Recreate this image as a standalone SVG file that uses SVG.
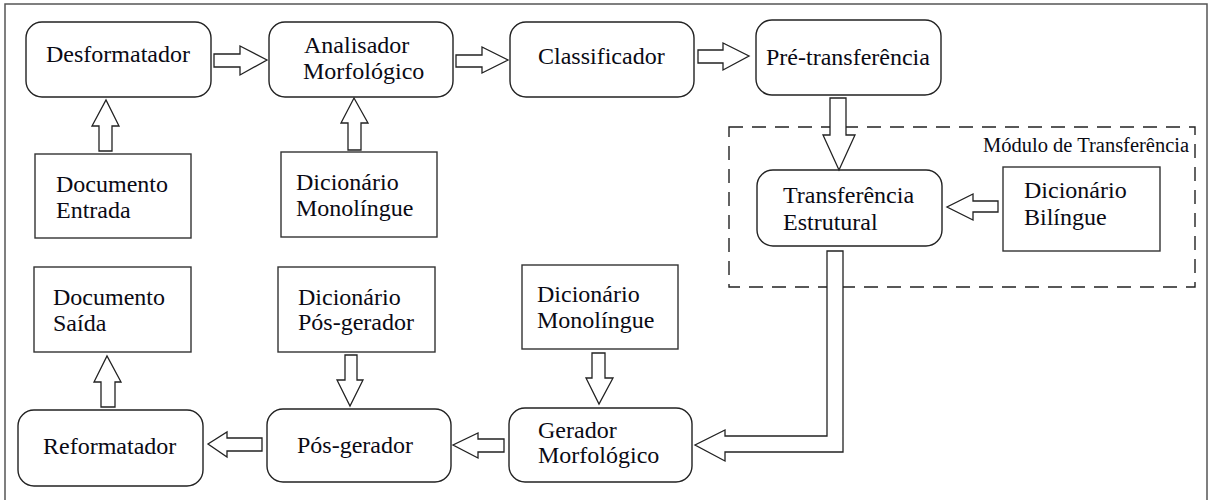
<svg xmlns="http://www.w3.org/2000/svg" width="1209" height="500" viewBox="0 0 1209 500">
  <style>
    .frame { fill: none; stroke: #555; stroke-width: 1.5; }
    .proc { fill: #fff; stroke: #222; stroke-width: 1.4; }
    .data { fill: #fff; stroke: #333; stroke-width: 1.4; }
    .module { fill: none; stroke: #222; stroke-width: 1.4; stroke-dasharray: 14 9; }
    .arrow { fill: #fff; stroke: #222; stroke-width: 1.3; stroke-linejoin: miter; }
    .lbl { font-family: 'Liberation Serif', serif; font-size: 24px; fill: #0a0a14; }
    .small { font-family: 'Liberation Serif', serif; font-size: 20.5px; fill: #0a0a14; }
  </style>

  <!-- outer frame -->
  <path class="frame" d="M5,500 V4 H1207 V500"/>

  <!-- transfer module boundary -->
  <g id="modulo-transferencia">
    <rect class="module" x="729" y="127" width="466" height="160"/>
    <text class="small" x="983" y="152">Módulo de Transferência</text>
  </g>

  <!-- processing steps -->
  <g id="desformatador">
    <rect class="proc" x="26" y="22" width="185" height="75" rx="16"/>
    <text class="lbl" x="46" y="62">Desformatador</text>
  </g>
  <g id="analisador">
    <rect class="proc" x="269" y="22" width="184" height="75" rx="16"/>
    <text class="lbl" x="304" y="53">Analisador</text>
    <text class="lbl" x="303" y="79">Morfológico</text>
  </g>
  <g id="classificador">
    <rect class="proc" x="510" y="22" width="184" height="75" rx="16"/>
    <text class="lbl" x="538" y="64">Classificador</text>
  </g>
  <g id="pre-transferencia">
    <rect class="proc" x="756" y="20" width="185" height="75" rx="16"/>
    <text class="lbl" x="766" y="65">Pré-transferência</text>
  </g>
  <g id="transferencia-estrutural">
    <rect class="proc" x="757" y="170" width="185" height="76" rx="16"/>
    <text class="lbl" x="783" y="203">Transferência</text>
    <text class="lbl" x="783" y="230">Estrutural</text>
  </g>
  <g id="gerador">
    <rect class="proc" x="509" y="408" width="183" height="74" rx="16"/>
    <text class="lbl" x="538" y="438">Gerador</text>
    <text class="lbl" x="538" y="463">Morfológico</text>
  </g>
  <g id="pos-gerador">
    <rect class="proc" x="267" y="409" width="184" height="73" rx="16"/>
    <text class="lbl" x="297" y="453">Pós-gerador</text>
  </g>
  <g id="reformatador">
    <rect class="proc" x="18" y="410" width="185" height="76" rx="16"/>
    <text class="lbl" x="43" y="454">Reformatador</text>
  </g>

  <!-- documents and dictionaries -->
  <g id="documento-entrada">
    <rect class="data" x="35" y="154" width="156" height="84"/>
    <text class="lbl" x="56" y="192">Documento</text>
    <text class="lbl" x="56" y="218">Entrada</text>
  </g>
  <g id="dicionario-monolingue-1">
    <rect class="data" x="281" y="152" width="156" height="85"/>
    <text class="lbl" x="296" y="190">Dicionário</text>
    <text class="lbl" x="296" y="216">Monolíngue</text>
  </g>
  <g id="dicionario-bilingue">
    <rect class="data" x="1003" y="167" width="157" height="84"/>
    <text class="lbl" x="1024" y="198">Dicionário</text>
    <text class="lbl" x="1024" y="225">Bilíngue</text>
  </g>
  <g id="documento-saida">
    <rect class="data" x="34" y="267" width="157" height="85"/>
    <text class="lbl" x="53" y="305">Documento</text>
    <text class="lbl" x="53" y="331">Saída</text>
  </g>
  <g id="dicionario-pos-gerador">
    <rect class="data" x="278" y="267" width="157" height="85"/>
    <text class="lbl" x="298" y="305">Dicionário</text>
    <text class="lbl" x="298" y="330">Pós-gerador</text>
  </g>
  <g id="dicionario-monolingue-2">
    <rect class="data" x="522" y="265" width="156" height="84"/>
    <text class="lbl" x="537" y="302">Dicionário</text>
    <text class="lbl" x="537" y="328">Monolíngue</text>
  </g>

  <!-- block arrows -->
  <g id="connectors">
    <polygon class="arrow" points="214,54 240,54 240,46 267,60 240,75 240,67 214,67"/>
    <polygon class="arrow" points="456,55 482,55 482,47 508,60 482,73 482,67 456,67"/>
    <polygon class="arrow" points="698,50 723,50 723,43 749,56 723,70 723,63 698,63"/>
    <polygon class="arrow" points="99,151 99,126 92,126 106,100 119,126 112,126 112,151"/>
    <polygon class="arrow" points="348,150 348,123 341,123 354,98 368,123 361,123 361,150"/>
    <polygon class="arrow" points="830,98 846,98 846,135 855,135 839,170 823,135 830,135"/>
    <polygon class="arrow" points="998,201 973,201 973,194 947,207 973,220 973,212 998,212"/>
    <polygon class="arrow" points="827,251 843,251 843,452 725,452 725,461 695,445 725,430 725,436 827,436"/>
    <polygon class="arrow" points="592,353 605,353 605,378 613,378 599,404 586,378 592,378"/>
    <polygon class="arrow" points="504,439 478,439 478,433 453,445 478,458 478,452 504,452"/>
    <polygon class="arrow" points="262,438 227,438 227,432 208,444 227,457 227,451 262,451"/>
    <polygon class="arrow" points="101,407 101,382 94,382 107,356 121,382 115,382 115,407"/>
    <polygon class="arrow" points="345,355 357,355 357,380 363,380 350,406 337,380 345,380"/>
  </g>
</svg>
